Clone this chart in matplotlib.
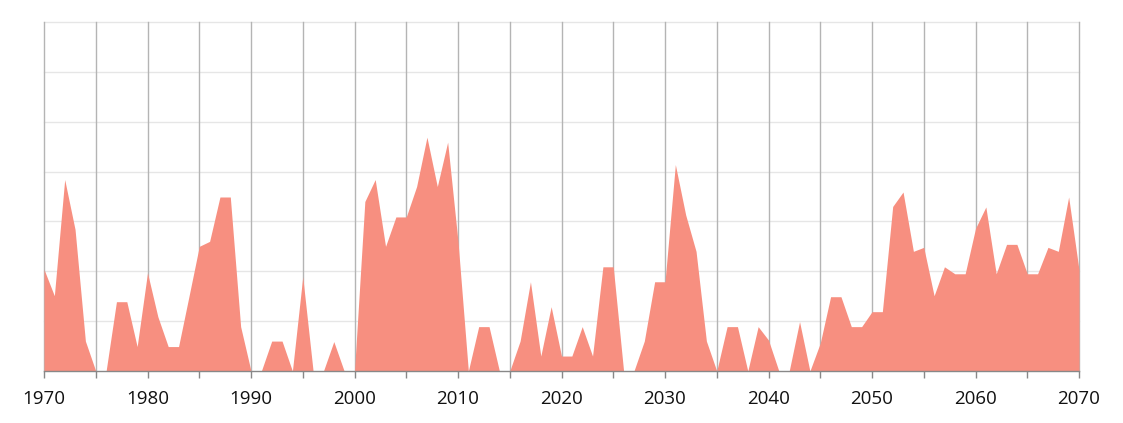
import matplotlib.pyplot as plt
import numpy as np

years = list(range(1970, 2071))
values = [
    20.4, 15.1, 38.4, 28.4, 6.0, 0, 0, 13.9, 13.9, 4.9,      # 1970-1979
    19.7, 10.9, 4.9, 4.9, 14.9, 25.0, 26.0, 34.9, 34.9, 8.9,  # 1980-1989
    0, 0, 6.0, 6.0, 0, 18.9, 0, 0, 5.9, 0,                    # 1990-1999
    0, 34.0, 38.4, 25.0, 30.9, 30.9, 37.0, 46.9, 37.0, 45.9,  # 2000-2009
    26.0, 0, 8.9, 8.9, 0, 0, 6.0, 17.9, 3.0, 12.9,            # 2010-2019
    3.0, 3.0, 8.9, 3.0, 20.9, 20.9, 0, 0, 6.0, 17.9,          # 2020-2029
    17.9, 41.4, 31.3, 24.0, 6.0, 0, 8.9, 8.9, 0, 8.9,         # 2030-2039
    6.2, 0, 0, 9.9, 0, 5.6, 14.9, 14.9, 8.9, 8.9,             # 2040-2049
    11.9, 11.9, 33.0, 35.9, 24.0, 24.8, 15.1, 20.9, 19.5, 19.5,  # 2050-2059
    28.6, 32.9, 19.5, 25.4, 25.4, 19.5, 19.5, 24.8, 24.0, 34.9,  # 2060-2069
    20.3,                                                     # 2070
]

fig = plt.figure(figsize=(11.23, 4.23), dpi=100)
ax = fig.add_axes([44 / 1123, 52 / 423, 1035 / 1123, 349 / 423])

ax.fill_between(years, values, 0, color='#F78F80', linewidth=0, zorder=2)

ax.set_xlim(1970, 2070)
ax.set_ylim(0, 70)

ax.set_xticks(range(1970, 2071, 5))
ax.set_xticklabels([str(y) if y % 10 == 0 else '' for y in range(1970, 2071, 5)],
                   fontsize=13.5, fontfamily='Open Sans', color='#111111')
ax.set_yticks(range(0, 71, 10))
ax.set_yticklabels([])

ax.tick_params(axis='x', length=5, width=1, color='#888888', pad=9)
ax.tick_params(axis='y', length=0)

for y in range(10, 71, 10):
    ax.axhline(y, color='#e6e6e6', linewidth=1, zorder=0, clip_on=False)
for x in range(1970, 2071, 5):
    ax.axvline(x, color='#b4b4b4', linewidth=1, zorder=1, clip_on=False)

for side in ['top', 'right', 'left']:
    ax.spines[side].set_visible(False)
ax.spines['bottom'].set_color('#888888')
ax.spines['bottom'].set_linewidth(1)
ax.spines['bottom'].set_zorder(3)

fig.savefig('out.png', dpi=100)
